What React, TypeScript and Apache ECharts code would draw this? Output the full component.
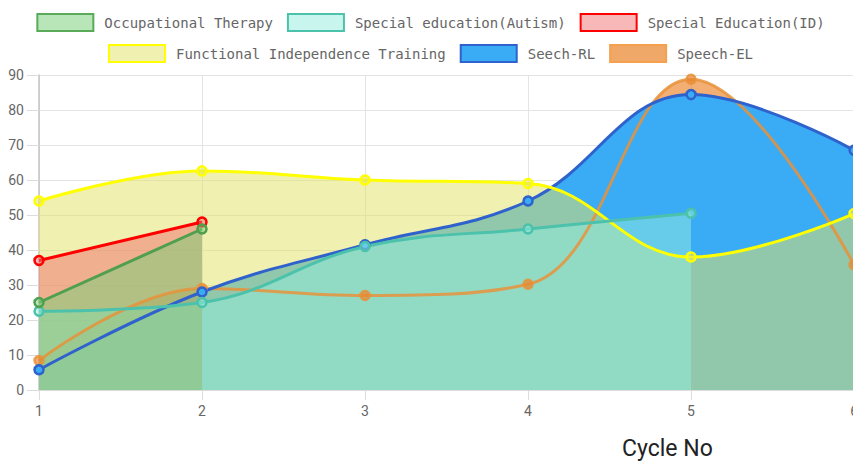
import React, { useEffect, useRef } from "react";
import * as echarts from "echarts";

const categories = ["1", "2", "3", "4", "5", "6"];
const seriesNames = [
  "Occupational Therapy",
  "Special education(Autism)",
  "Special Education(ID)",
  "Functional Independence Training",
  "Seech-RL",
  "Speech-EL",
];
const occupationalTherapy = [25, 46];
const specialAutism = [22.5, 25, 41, 46, 50.5];
const specialID = [37, 48];
const functionalIndependence = [54, 62.6, 60, 59, 38, 50.4];
const speechRL = [5.8, 28, 41.5, 54, 84.4, 68.5];
const speechEL = [8.4, 29, 27, 30.2, 88.8, 35.8];
const yTicks = { min: 0, max: 90, interval: 10 };
const axisTitle = "Cycle No";

const seriesData = [
  occupationalTherapy,
  specialAutism,
  specialID,
  functionalIndependence,
  speechRL,
  speechEL,
];

const lineColors = [
  "#4f9f4f",
  "#4cc2ad",
  "#ff0000",
  "#ffff00",
  "#2f62cc",
  "rgba(232,146,58,0.85)",
];
const fillColors = [
  "rgba(121,207,121,0.52)",
  "rgba(146,237,223,0.5)",
  "rgba(240,112,112,0.5)",
  "rgba(226,226,104,0.52)",
  "#3aabf5",
  "rgba(235,132,42,0.66)",
];
const legendFill = [
  "#b9e6b9",
  "#c9f5ef",
  "#f8b8b8",
  "#f0f0b0",
  "#3aabf5",
  "#f0a868",
];
const legendBorder = ["#5aaa5a", "#4cc2ad", "#ff0000", "#ffff00", "#2f62cc", "#f4a04c"];
const smoothness = [0, 0.4, 0, 0.4, 0.4, 0.4];

export default function App() {
  const ref = useRef<HTMLDivElement>(null);
  useEffect(() => {
    if (!ref.current) return;
    const chart = echarts.init(ref.current, undefined, { renderer: "svg" });
    const order = [5, 4, 3, 2, 1, 0];
    const areaSeries = order.map((i) => ({
      name: seriesNames[i],
      type: "line",
      data: seriesData[i],
      smooth: smoothness[i],
      symbol: "none",
      z: 1,
      lineStyle: { width: 0, opacity: 0 },
      areaStyle: { color: fillColors[i], opacity: 1 },
      itemStyle: { color: legendFill[i] },
      emphasis: { disabled: true },
    }));
    const lineSeries = order.map((i) => ({
      name: seriesNames[i],
      type: "line",
      data: seriesData[i],
      smooth: smoothness[i],
      symbol: "circle",
      symbolSize: 9,
      z: 3,
      lineStyle: { width: 3, color: lineColors[i] },
      itemStyle: {
        color: fillColors[i],
        borderColor: lineColors[i],
        borderWidth: 2.5,
      },
      emphasis: { disabled: true },
    }));
    const legendItem = (i: number) => ({
      name: seriesNames[i],
      icon: "rect",
      itemStyle: {
        color: legendFill[i],
        borderColor: legendBorder[i],
        borderWidth: 2,
      },
    });
    const legendCommon = {
      left: "center",
      itemWidth: 56,
      itemHeight: 17,
      itemGap: 14,
      selectedMode: false,
      textStyle: {
        fontFamily: "'DejaVu Sans Mono', monospace",
        fontSize: 14,
        color: "#666",
        padding: [0, 0, 0, 6],
      },
    };
    chart.setOption({
      animation: false,
      legend: [
        { ...legendCommon, top: 8, data: [0, 1, 2].map(legendItem) },
        { ...legendCommon, top: 39, data: [3, 4, 5].map(legendItem) },
      ],
      grid: { left: 39, right: 4, top: 75, bottom: 80, containLabel: false },
      xAxis: {
        type: "category",
        data: categories,
        boundaryGap: false,
        axisLine: { lineStyle: { color: "#dcdcdc", width: 1 } },
        axisTick: { show: true, length: 10, lineStyle: { color: "#dcdcdc" } },
        splitLine: { show: true, lineStyle: { color: "#e4e4e4" } },
        axisLabel: {
          color: "#666",
          fontFamily: "Roboto, sans-serif",
          fontSize: 14,
          margin: 14,
        },
      },
      yAxis: {
        type: "value",
        min: yTicks.min,
        max: yTicks.max,
        interval: yTicks.interval,
        axisLine: { show: true, lineStyle: { color: "#c4c4c4", width: 1.5 } },
        axisTick: { show: true, length: 12, lineStyle: { color: "#dcdcdc" } },
        splitLine: { show: true, lineStyle: { color: "#e4e4e4" } },
        axisLabel: {
          color: "#666",
          fontFamily: "Roboto, sans-serif",
          fontSize: 14,
          margin: 15,
        },
      },
      graphic: [
        {
          type: "text",
          left: 622,
          top: 437,
          style: {
            text: axisTitle,
            fontFamily: "Roboto, sans-serif",
            fontSize: 23,
            fill: "#222",
          },
        },
      ],
      series: [...areaSeries, ...lineSeries],
    });
    return () => chart.dispose();
  }, []);
  return <div ref={ref} style={{ width: 861, height: 470, margin: -8 }} />;
}
